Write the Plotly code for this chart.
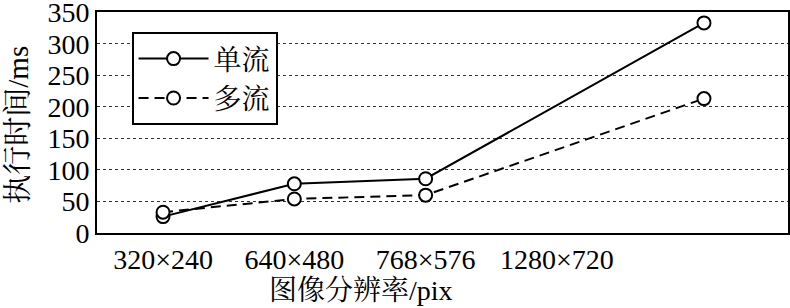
import plotly.graph_objects as go

categories = ["320×240", "640×480", "768×576", "1280×720"]
tick_positions = [0, 1, 2, 3]
x_values = [0, 1, 2, 4.12]
single_stream = [26, 78, 86, 333]
multi_stream = [33, 54, 60, 213]
y_ticks = [0, 50, 100, 150, 200, 250, 300, 350]

FONT = "Liberation Serif, Times New Roman, Noto Serif CJK SC, Noto Sans CJK SC, serif"

fig = go.Figure()
fig.add_trace(go.Scatter(
    x=x_values, y=single_stream, name="单流", mode="lines+markers",
    line=dict(color="black", width=2),
    marker=dict(symbol="circle", size=13, color="white", line=dict(color="black", width=2)),
))
fig.add_trace(go.Scatter(
    x=x_values, y=multi_stream, name="多流", mode="lines+markers",
    line=dict(color="black", width=2, dash="10px,6px"),
    marker=dict(symbol="circle", size=13, color="white", line=dict(color="black", width=2)),
))

fig.update_layout(
    width=790, height=308,
    margin=dict(l=97, r=2, t=12, b=75, autoexpand=False),
    paper_bgcolor="white", plot_bgcolor="white",
    font=dict(family=FONT, size=28, color="black"),
    showlegend=True,
    legend=dict(
        x=0.05, y=0.91, xanchor="left", yanchor="top",
        bordercolor="black", borderwidth=2, bgcolor="white",
        font=dict(size=28), itemwidth=70, tracegroupgap=0,
    ),
    xaxis=dict(
        range=[-0.503, 4.76], tickmode="array", tickvals=tick_positions, ticktext=categories,
        showgrid=False, zeroline=False, showline=True, linecolor="black", linewidth=2, mirror=True,
        ticks="", ticklen=0, automargin=False,
    ),
    yaxis=dict(
        range=[0, 350.3], tickmode="array", tickvals=y_ticks,
        showgrid=True, gridcolor="#333", griddash="dot", gridwidth=1,
        zeroline=False, showline=True, linecolor="black", linewidth=2, mirror=True,
        ticks="", ticklen=0, automargin=False, ticklabeloverflow="allow",
    ),
    annotations=[
        dict(text="图像分辨率/pix", xref="paper", yref="paper", x=0.382, y=-0.258,
             xanchor="center", yanchor="middle", showarrow=False, font=dict(size=28)),
        dict(text="执行时间/ms", xref="paper", yref="paper", x=-0.1404, y=0.49,
             xanchor="left", yanchor="middle", textangle=-90, showarrow=False, font=dict(size=29)),
    ],
)

fig.write_html("out.html", config={"displayModeBar": False},
               post_script="document.body.style.margin='0';")
